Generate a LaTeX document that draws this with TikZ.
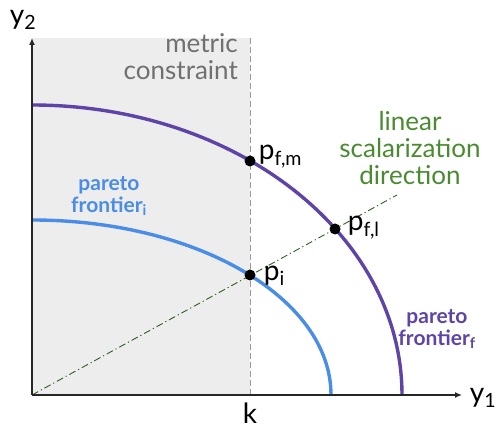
\documentclass[tikz,border=0pt]{standalone}
\usepackage{fontspec}
\setmainfont{Lato}
\usepackage{xcolor}
\usepackage{tikz}
\usetikzlibrary{arrows.meta,positioning}
\definecolor{frontfcolor}{HTML}{5E44A6}
\definecolor{fronticolor}{HTML}{4A8DE6}
\definecolor{scalarcolor}{HTML}{4A8A30}
\definecolor{scalarline}{HTML}{2F5E22}
\definecolor{regioncolor}{HTML}{EDEDED}
\definecolor{metriccolor}{HTML}{707070}
\tikzset{
  axisline/.style={-{Latex[length=7pt,width=6pt]},line width=1.3pt,draw=black!85},
  frontierf/.style={draw=frontfcolor,line width=3.4pt},
  frontieri/.style={draw=fronticolor,line width=3.4pt},
  scalarization/.style={draw=scalarline,line width=0.9pt,dash pattern=on 7pt off 3pt on 1.2pt off 3pt},
  constraintline/.style={draw=black!40,line width=1pt,dash pattern=on 6pt off 3pt},
  dotnode/.style={circle,fill=black,minimum size=11pt,inner sep=0pt},
  ptlabel/.style={font=\fontsize{28}{28}\selectfont,inner sep=1pt},
  axislabel/.style={font=\fontsize{28}{28}\selectfont,inner sep=0pt},
  notelabel/.style={font=\fontsize{26}{27}\selectfont,align=center,inner sep=0pt},
  frontlabel/.style={font=\fontsize{21}{22}\selectfont\bfseries,align=center,inner sep=0pt}
}
\begin{document}
\begin{tikzpicture}[x=1pt,y=1pt]
  \useasboundingbox (-32,-35) rectangle (471,395);
  % feasible region under the metric constraint
  \fill[regioncolor] (0,0) rectangle (218,357);
  \coordinate (O) at (0,0);
  \coordinate (xend) at (430,0);
  \coordinate (yend) at (0,357);
  \coordinate (kbot) at (218,0);
  \coordinate (ktop) at (218,357);
  \coordinate (dirend) at (365,200);
  \draw[constraintline] (kbot) -- (ktop);
  % pareto frontiers
  \draw[frontieri] (0,175) arc[start angle=90,end angle=0,x radius=299,y radius=175];
  \draw[frontierf] (0,290) arc[start angle=90,end angle=0,x radius=370,y radius=290];
  \draw[scalarization] (O) -- (dirend);
  \draw[axisline] (O) -- (xend);
  \draw[axisline] (O) -- (yend);
  % points
  \node[dotnode] (pfm) at (218,234) {};
  \node[dotnode] (pfl) at (303,166) {};
  \node[dotnode] (pi) at (218,120) {};
  \node[ptlabel, anchor=south west] (pfmlabel) at ([xshift=2pt,yshift=-8pt]pfm.east) {p\textsubscript{f,m}};
  \node[ptlabel, anchor=south west] (pfllabel) at ([xshift=6pt,yshift=-11pt]pfl.east) {p\textsubscript{f,l}};
  \node[ptlabel, anchor=south west] (pilabel) at ([xshift=7pt,yshift=-12pt]pi.east) {p\textsubscript{i}};
  % labels
  \node[axislabel] (ylab) at (-9,375) {y\textsubscript{2}};
  \node[axislabel] (xlab) at (451,-3) {y\textsubscript{1}};
  \node[axislabel, below=8pt of kbot] (klab) {k};
  \node[notelabel, text=metriccolor, align=right, anchor=north east] (metric) at (206,362) {metric\\constraint};
  \node[notelabel, text=scalarcolor] (scalar) at (378,247) {linear\\scalarization\\direction};
  \node[frontlabel, text=fronticolor] (fi) at (77,199) {pareto\\frontier\textsubscript{i}};
  \node[frontlabel, text=frontfcolor] (ff) at (405,66) {pareto\\frontier\textsubscript{f}};
\end{tikzpicture}
\end{document}
